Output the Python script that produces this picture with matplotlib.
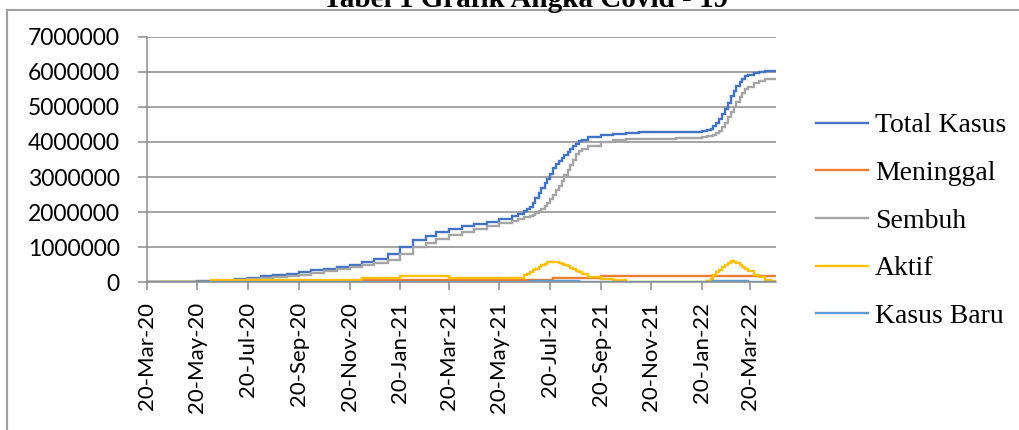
import matplotlib
matplotlib.use('Agg')
import matplotlib.pyplot as plt
import matplotlib.dates as mdates
from matplotlib.lines import Line2D
import pandas as pd

plt.rcParams['font.family'] = ['Lato', 'DejaVu Sans']

title = 'Tabel 1 Grafik Angka Covid - 19'

dates = [
    # 2020-03 .. 2021-06-12 (semi-monthly)
    '2020-03-20', '2020-04-05', '2020-04-20', '2020-05-05', '2020-05-20',
    '2020-06-05', '2020-06-20', '2020-07-05', '2020-07-20', '2020-08-05',
    '2020-08-20', '2020-09-05', '2020-09-20', '2020-10-05', '2020-10-20',
    '2020-11-05', '2020-11-20', '2020-12-05', '2020-12-20', '2021-01-05',
    '2021-01-20', '2021-02-05', '2021-02-20', '2021-03-05', '2021-03-20',
    '2021-04-05', '2021-04-20', '2021-05-05', '2021-05-20', '2021-06-05',
    '2021-06-12',
    # mid 2021 wave
    '2021-06-19', '2021-06-23', '2021-06-26', '2021-06-30', '2021-07-03',
    '2021-07-07', '2021-07-10', '2021-07-14', '2021-07-17', '2021-07-21',
    '2021-07-24', '2021-07-28', '2021-07-31', '2021-08-04', '2021-08-07',
    '2021-08-11', '2021-08-14', '2021-08-18', '2021-08-21', '2021-08-25',
    '2021-08-28', '2021-09-05',
    # late 2021
    '2021-09-20', '2021-10-05', '2021-10-20', '2021-11-05', '2021-11-20',
    '2021-12-05', '2021-12-20', '2022-01-05', '2022-01-20',
    # early 2022 wave
    '2022-01-27', '2022-01-31', '2022-02-03', '2022-02-07', '2022-02-10',
    '2022-02-14', '2022-02-17', '2022-02-21', '2022-02-24', '2022-02-28',
    '2022-03-03', '2022-03-07', '2022-03-10', '2022-03-14', '2022-03-17',
    # tail
    '2022-03-24', '2022-03-31', '2022-04-07', '2022-04-14', '2022-04-20',
]

total_kasus = [
    0, 2000, 7000, 12000, 30000,
    40000, 50000, 100000, 120000, 180000,
    200000, 240000, 300000, 340000, 380000,
    430000, 490000, 570000, 650000, 800000,
    1000000, 1200000, 1330000, 1430000, 1520000,
    1600000, 1670000, 1730000, 1800000, 1880000,
    1950000,
    2020000, 2080000, 2150000, 2270000, 2400000,
    2540000, 2680000, 2820000, 2950000, 3100000,
    3250000, 3360000, 3450000, 3540000, 3620000,
    3710000, 3800000, 3880000, 3950000, 4020000,
    4070000, 4140000,
    4200000, 4220000, 4260000, 4270000, 4270000,
    4280000, 4280000, 4290000, 4300000,
    4330000, 4380000, 4450000, 4550000, 4650000,
    4800000, 4950000, 5120000, 5300000, 5450000,
    5600000, 5700000, 5800000, 5870000, 5920000,
    5970000, 6000000, 6020000, 6030000, 6030000,
]

meninggal = [
    0, 500, 600, 1000, 1300,
    1800, 2500, 3400, 4200, 5400,
    6500, 8000, 9500, 11000, 12500,
    14000, 15500, 60000, 60000, 60000,
    60000, 60000, 60000, 60000, 60000,
    60000, 60000, 60000, 60000, 60000,
    60000,
    60000, 60000, 60000, 60000, 60000,
    60000, 60000, 60000, 60000, 60000,
    120000, 120000, 120000, 120000, 120000,
    120000, 120000, 120000, 120000, 120000,
    120000, 120000,
    170000, 170000, 170000, 170000, 170000,
    170000, 170000, 170000, 170000,
    170000, 170000, 170000, 170000, 170000,
    170000, 170000, 170000, 170000, 170000,
    170000, 170000, 170000, 170000, 170000,
    170000, 170000, 170000, 170000, 170000,
]

sembuh = [
    0, 100, 1000, 2000, 5000,
    10000, 20000, 50000, 80000, 120000,
    140000, 170000, 220000, 270000, 330000,
    380000, 430000, 490000, 550000, 630000,
    800000, 1000000, 1120000, 1240000, 1340000,
    1430000, 1520000, 1600000, 1680000, 1760000,
    1800000,
    1850000, 1870000, 1900000, 1930000, 1970000,
    2030000, 2100000, 2170000, 2250000, 2370000,
    2500000, 2620000, 2750000, 2900000, 3050000,
    3200000, 3350000, 3500000, 3650000, 3730000,
    3800000, 3880000,
    4000000, 4060000, 4080000, 4090000, 4090000,
    4090000, 4100000, 4120000, 4140000,
    4160000, 4180000, 4200000, 4250000, 4300000,
    4420000, 4550000, 4700000, 4850000, 5000000,
    5150000, 5280000, 5400000, 5500000, 5580000,
    5680000, 5750000, 5790000, 5800000, 5800000,
]

aktif = [
    0, 2000, 4000, 6000, 10000,
    60000, 60000, 60000, 60000, 60000,
    60000, 60000, 60000, 60000, 60000,
    60000, 60000, 120000, 120000, 120000,
    180000, 180000, 180000, 180000, 120000,
    120000, 120000, 120000, 120000, 120000,
    120000,
    200000, 250000, 300000, 340000, 380000,
    430000, 480000, 530000, 570000, 585000,
    590000, 575000, 560000, 530000, 500000,
    460000, 420000, 375000, 330000, 285000,
    240000, 150000,
    80000, 60000, 10000, 10000, 10000,
    10000, 10000, 10000, 10000,
    30000, 100000, 200000, 280000, 350000,
    430000, 500000, 560000, 600000, 580000,
    560000, 500000, 450000, 390000, 330000,
    220000, 140000, 70000, 50000, 50000,
]

kasus_baru = [
    0, 100, 300, 500, 700,
    1000, 1000, 1500, 1500, 2000,
    2500, 3500, 4000, 4000, 4000,
    4500, 4500, 6000, 7000, 8000,
    12000, 9000, 7000, 6000, 5000,
    5000, 5000, 5000, 5000, 7000,
    9000,
    13000, 20000, 40000, 40000, 40000,
    40000, 40000, 40000, 40000, 40000,
    40000, 40000, 40000, 40000, 40000,
    40000, 40000, 40000, 40000, 20000,
    10000, 6000,
    4000, 1500, 900, 500, 400,
    250, 200, 500, 2000,
    7000, 20000, 40000, 40000, 40000,
    40000, 40000, 40000, 40000, 40000,
    40000, 40000, 40000, 30000, 20000,
    8000, 5000, 3000, 2000, 1500,
]

series_names = ['Total Kasus', 'Meninggal', 'Sembuh', 'Aktif', 'Kasus Baru']
series_values = [total_kasus, meninggal, sembuh, aktif, kasus_baru]
series_colors = ['#4472C4', '#ED7D31', '#A5A5A5', '#FFC000', '#5B9BD5']

x_tick_dates = ['2020-03-20', '2020-05-20', '2020-07-20', '2020-09-20', '2020-11-20',
                '2021-01-20', '2021-03-20', '2021-05-20', '2021-07-20', '2021-09-20',
                '2021-11-20', '2022-01-20', '2022-03-20']
y_ticks = [0, 1000000, 2000000, 3000000, 4000000, 5000000, 6000000, 7000000]

W, H = 1020, 430
fig = plt.figure(figsize=(W / 100, H / 100), dpi=100)
fig.patch.set_facecolor('white')

left, right, top, bottom = 147, 776, 36.7, 282.3
ax = fig.add_axes([left / W, 1 - bottom / H, (right - left) / W, (bottom - top) / H])

x = pd.to_datetime(dates)
for name, vals, col in zip(series_names, series_values, series_colors):
    ax.plot(x, vals, drawstyle='steps-post', color=col, lw=1.7, label=name,
            solid_joinstyle='miter')

ax.set_xlim(pd.Timestamp('2020-03-20'), pd.Timestamp('2022-04-20'))
ax.set_ylim(0, 7000000)
ax.set_yticks(y_ticks)
ax.set_yticklabels([str(v) for v in y_ticks])
ax.set_xticks(pd.to_datetime(x_tick_dates))
ax.xaxis.set_major_formatter(mdates.DateFormatter('%d-%b-%y'))
for lab in ax.get_xticklabels():
    lab.set_rotation(90)
    lab.set_ha('center')
    lab.set_va('top')

grid_col = '#8C8C8C'
ax.grid(axis='y', color=grid_col, lw=1.1)
ax.grid(axis='x', visible=False)
ax.set_axisbelow(True)
for s in ['top', 'right']:
    ax.spines[s].set_visible(False)
for s in ['left', 'bottom']:
    ax.spines[s].set_color(grid_col)
    ax.spines[s].set_linewidth(1.1)
ax.tick_params(axis='x', length=6, width=1.1, color=grid_col, pad=8, labelsize=16,
               labelcolor='black')
ax.tick_params(axis='y', length=6.5, width=1.1, color=grid_col, pad=13, labelsize=16.5,
               labelcolor='black')

leg = ax.legend(loc='center left', bbox_to_anchor=(816 / W, 1 - 221 / H),
                bbox_transform=fig.transFigure, frameon=False, borderpad=0,
                borderaxespad=0, handlelength=1.87, handletextpad=0.25,
                labelspacing=0.8, prop={'family': 'Liberation Serif', 'size': 20})

fig.text(526 / W, 1 - 7 / H, title, ha='center', va='baseline', fontsize=21,
         fontweight='bold', family='Liberation Serif')

border_col = '#A0A0A0'
fig.add_artist(Line2D([7.5 / W, 1.05], [1 - 10 / H, 1 - 10 / H], transform=fig.transFigure,
                      color=border_col, lw=1.5))
fig.add_artist(Line2D([7.5 / W, 7.5 / W], [1 - 10 / H, -0.05], transform=fig.transFigure,
                      color=border_col, lw=1.5))

fig.savefig('out.png', dpi=100, facecolor='white')
